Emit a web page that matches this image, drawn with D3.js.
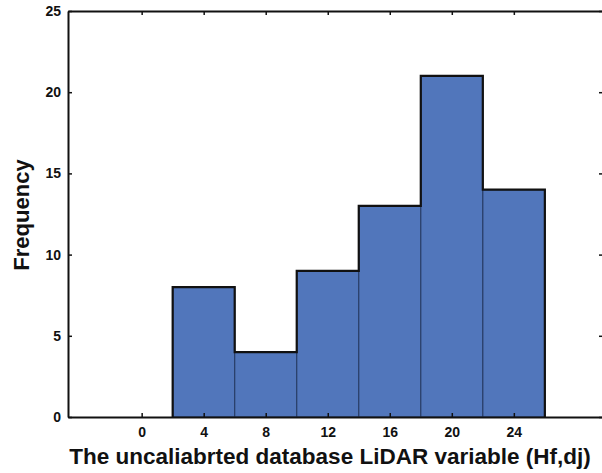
<!DOCTYPE html>
<html>
<head>
<meta charset="utf-8">
<script src="https://cdn.jsdelivr.net/npm/d3@7"></script>
<style>
  body { margin: 0; background: #fff; }
  text { font-family: "Liberation Sans", Arial, sans-serif; }
</style>
</head>
<body>
<div id="chart"></div>
<script>
// histogram data: bin centres and counts
var binCenters = [4, 8, 12, 16, 20, 24];
var counts     = [8, 4, 9, 13, 21, 14];
var binWidth   = 4;
var xTicks     = [0, 4, 8, 12, 16, 20, 24];
var yTicks     = [0, 5, 10, 15, 20, 25];

var W = 602, H = 473;
var plotL = 68, plotR = 603, plotT = 11, plotB = 417;

var svg = d3.select('#chart').append('svg')
  .attr('width', W)
  .attr('height', H);

var x = d3.scaleLinear().domain([-4.75, 29.75]).range([plotL, plotR]);
var y = d3.scaleLinear().domain([0, 25]).range([plotB, plotT]);

// bars
var bars = binCenters.map(function(c, i) {
  return { x0: c - binWidth / 2, x1: c + binWidth / 2, n: counts[i] };
});

svg.selectAll('rect.bar')
  .data(bars)
  .enter()
  .append('rect')
  .attr('class', 'bar')
  .attr('x', function(d) { return x(d.x0); })
  .attr('y', function(d) { return y(d.n); })
  .attr('width', function(d) { return x(d.x1) - x(d.x0); })
  .attr('height', function(d) { return y(0) - y(d.n); })
  .attr('fill', '#5176bb')
  .attr('stroke', '#2a3f6a')
  .attr('stroke-width', 1.2);

// dark outline around the outer shape of the histogram
var outline = [[x(bars[0].x0), y(0)]];
bars.forEach(function(d) {
  outline.push([x(d.x0), y(d.n)]);
  outline.push([x(d.x1), y(d.n)]);
});
outline.push([x(bars[bars.length - 1].x1), y(0)]);

svg.append('path')
  .attr('d', d3.line()(outline))
  .attr('fill', 'none')
  .attr('stroke', '#111')
  .attr('stroke-width', 2.2)
  .attr('stroke-linejoin', 'miter');

// axes (box with inward ticks)
var xAxisB = d3.axisBottom(x).tickValues(xTicks).tickSize(-4).tickSizeOuter(0).tickPadding(10);
var xAxisT = d3.axisTop(x).tickValues(xTicks).tickSize(-4).tickSizeOuter(0).tickFormat('');
var yAxisL = d3.axisLeft(y).tickValues(yTicks).tickSize(-4).tickSizeOuter(0).tickPadding(7);
var yAxisR = d3.axisRight(y).tickValues(yTicks).tickSize(-4).tickSizeOuter(0).tickFormat('');

function styleAxis(g) {
  g.select('.domain').attr('stroke', '#111').attr('stroke-width', 2);
  g.selectAll('.tick line').attr('stroke', '#111').attr('stroke-width', 1.5);
  g.selectAll('.tick text')
    .attr('font-size', 14)
    .attr('font-weight', 'bold')
    .attr('font-family', '"Liberation Sans", Arial, sans-serif')
    .attr('fill', '#111');
}

svg.append('g').attr('transform', 'translate(0,' + plotB + ')').call(xAxisB).call(styleAxis);
svg.append('g').attr('transform', 'translate(0,' + plotT + ')').call(xAxisT).call(styleAxis);
svg.append('g').attr('transform', 'translate(' + plotL + ',0)').call(yAxisL).call(styleAxis);
svg.append('g').attr('transform', 'translate(' + plotR + ',0)').call(yAxisR).call(styleAxis);

// axis titles
svg.append('text')
  .attr('x', (plotL + 592) / 2)
  .attr('y', 464)
  .attr('text-anchor', 'middle')
  .attr('font-size', 22.5)
  .attr('font-weight', 'bold')
  .attr('fill', '#111')
  .text('The uncaliabrted database LiDAR variable (Hf,dj)');

svg.append('text')
  .attr('transform', 'translate(29,' + 215 + ') rotate(-90)')
  .attr('text-anchor', 'middle')
  .attr('font-size', 22)
  .attr('font-weight', 'bold')
  .attr('fill', '#111')
  .text('Frequency');
</script>
</body>
</html>
